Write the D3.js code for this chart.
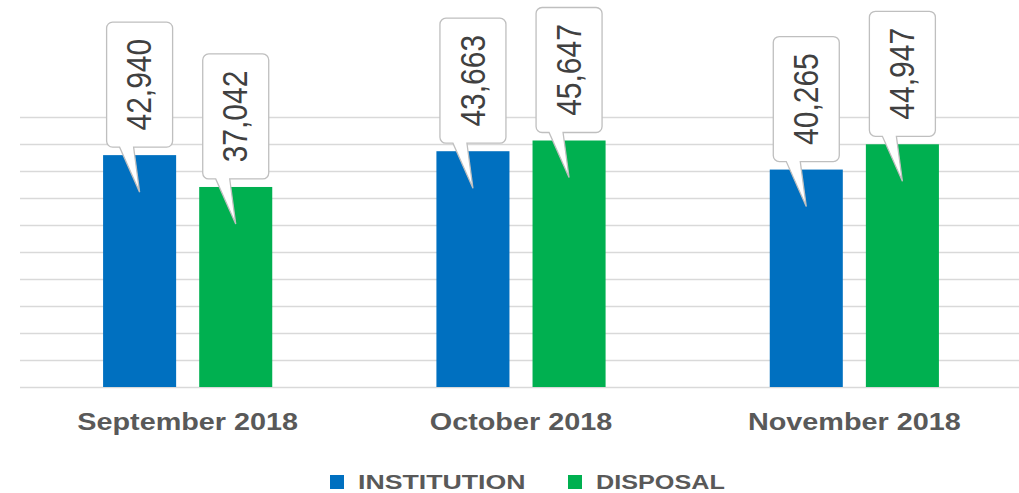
<!DOCTYPE html>
<html><head><meta charset="utf-8">
<script src="https://cdn.jsdelivr.net/npm/d3@7"></script>
<style>
html,body{margin:0;padding:0;background:#fff;}
svg{display:block;}
</style></head>
<body>
<svg id="chart" width="1019" height="493"></svg>
<script>
const categories = ["September 2018", "October 2018", "November 2018"];
const seriesNames = ["INSTITUTION", "DISPOSAL"];
const institution = [42940, 43663, 40265];
const disposal = [37042, 45647, 44947];
const yTicks = [0, 5000, 10000, 15000, 20000, 25000, 30000, 35000, 40000, 45000, 50000];

const colors = {INSTITUTION: "#0070c0", DISPOSAL: "#00b050"};
const svg = d3.select("#chart");
const W = 1019;

const x0 = d3.scaleBand().domain(categories).range([21, 1021]).paddingInner(0.4925).paddingOuter(0.24625);
const x1 = d3.scaleBand().domain(seriesNames).range([0, x0.bandwidth()]).paddingInner(0.24);
const y = d3.scaleLinear().domain([0, 50000]).range([387, 117]);

// gridlines
svg.append("g").selectAll("line").data(yTicks).join("line")
  .attr("x1", 20).attr("x2", W)
  .attr("y1", d => y(d) + 0.5).attr("y2", d => y(d) + 0.5)
  .attr("stroke", "#d9d9d9").attr("stroke-width", 1.3);

const data = [];
categories.forEach((c, i) => {
  data.push({cat: c, s: "INSTITUTION", v: institution[i]});
  data.push({cat: c, s: "DISPOSAL", v: disposal[i]});
});

// bars
svg.append("g").selectAll("rect").data(data).join("rect")
  .attr("x", d => x0(d.cat) + x1(d.s))
  .attr("width", x1.bandwidth())
  .attr("y", d => y(d.v))
  .attr("height", d => y(0) - y(d.v))
  .attr("fill", d => colors[d.s]);

// callouts
const bw = 66, bh = 125, gapB = 8, tipDrop = 37, r = 6;
const cg = svg.append("g");
data.forEach(d => {
  const cx = x0(d.cat) + x1(d.s) + x1.bandwidth() / 2;
  const bottom = y(d.v) - gapB;
  const top = bottom - bh;
  const L = cx - bw / 2, R = cx + bw / 2;
  const tipX = cx, tipY = y(d.v) + tipDrop;
  const p = d3.path();
  p.moveTo(L + r, top);
  p.lineTo(R - r, top);
  p.arcTo(R, top, R, top + r, r);
  p.lineTo(R, bottom - r);
  p.arcTo(R, bottom, R - r, bottom, r);
  p.lineTo(cx - 6, bottom);
  p.lineTo(tipX, tipY);
  p.lineTo(cx - 20, bottom);
  p.lineTo(L + r, bottom);
  p.arcTo(L, bottom, L, bottom - r, r);
  p.lineTo(L, top + r);
  p.arcTo(L, top, L + r, top, r);
  p.closePath();
  cg.append("path").attr("d", p.toString())
    .attr("fill", "#fff").attr("stroke", "#bfbfbf").attr("stroke-width", 1.3);
  cg.append("text")
    .attr("transform", `translate(${cx},${(top + bottom) / 2}) scale(1.15,1) rotate(-90)`)
    .attr("text-anchor", "middle").attr("dominant-baseline", "central")
    .attr("font-family", "Liberation Sans, Arial, sans-serif")
    .attr("font-size", 30).attr("fill", "#404040")
    .text(d3.format(",")(d.v));
});

// x labels
svg.append("g").selectAll("text").data(categories).join("text")
  .attr("transform", d => `translate(${x0(d) + x0.bandwidth() / 2},430) scale(1.2,1)`)
  .attr("text-anchor", "middle")
  .attr("font-family", "Liberation Sans, Arial, sans-serif")
  .attr("font-weight", "bold").attr("font-size", 24).attr("fill", "#595959")
  .text(d => d);

// legend
const legendX = [330, 568];
const lg = svg.append("g");
seriesNames.forEach((s, i) => {
  lg.append("rect").attr("x", legendX[i]).attr("y", 475).attr("width", 14).attr("height", 14).attr("fill", colors[s]);
  lg.append("text")
    .attr("transform", `translate(${legendX[i] + 28},489) scale(${i === 0 ? 1.27 : 1.2},1)`)
    .attr("font-family", "Liberation Sans, Arial, sans-serif")
    .attr("font-weight", "bold").attr("font-size", 21).attr("fill", "#595959")
    .text(s);
});
</script>
</body></html>
